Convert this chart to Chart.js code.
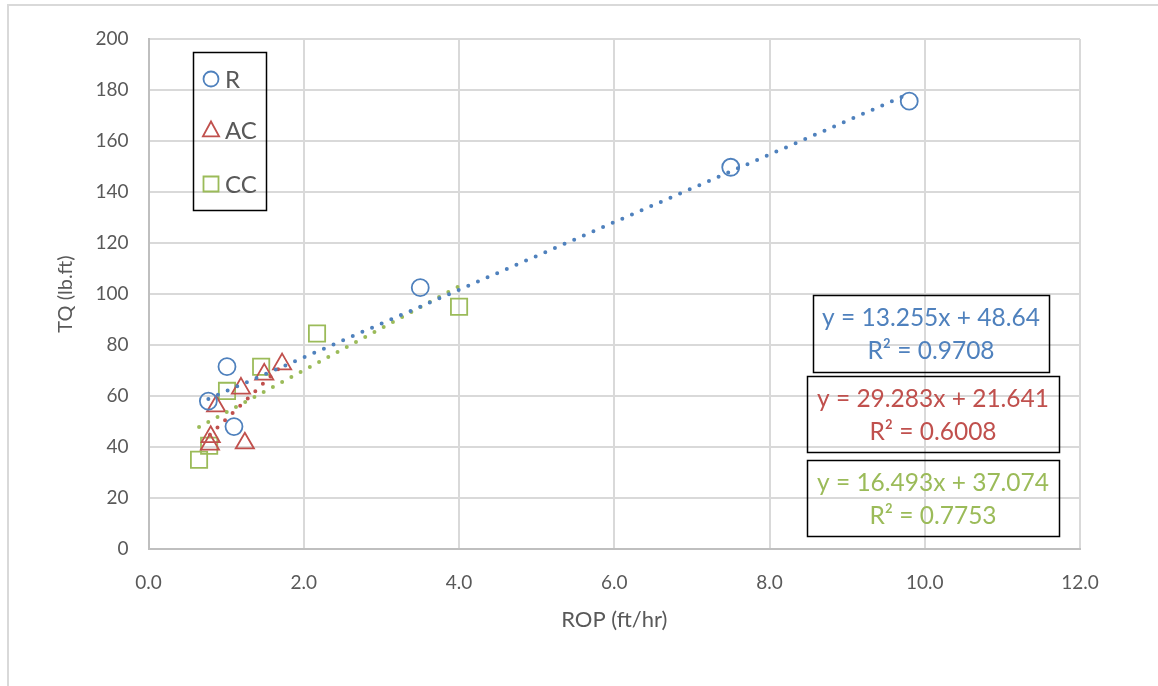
<!DOCTYPE html>
<html>
<head>
<meta charset="utf-8">
<script src="https://cdn.jsdelivr.net/npm/chart.js@4.4.0/dist/chart.umd.min.js"></script>
<style>
  html, body { margin: 0; padding: 0; background: #fff; }
</style>
</head>
<body>
<canvas id="myChart" width="1158" height="686"></canvas>
<script>
// data
var seriesNames = ['R', 'AC', 'CC'];
var rX  = [0.77, 1.01, 1.10, 3.50, 7.50, 9.80];
var rY  = [58, 71.5, 48, 102.5, 149.7, 175.6];
var acX = [0.80, 0.79, 0.87, 1.19, 1.24, 1.49, 1.72];
var acY = [44, 41, 56, 63, 41.5, 68.5, 72.5];
var ccX = [0.65, 0.78, 1.01, 1.45, 2.17, 4.00];
var ccY = [35, 40.5, 62, 71.5, 84.5, 95];
var slopes = [13.255, 29.283, 16.493];
var intercepts = [48.64, 21.641, 37.074];
var rSquared = ['0.9708', '0.6008', '0.7753'];

var colors = ['#4F81BD', '#C0504D', '#9BBB59'];
var styles = ['circle', 'triangle', 'rect'];
var radii = [8.5, 10.5, 11.5];
var FONT = 'Lato, "Open Sans", sans-serif';

function pts(xs, ys) {
    return xs.map(function (x, i) { return { x: x, y: ys[i] }; });
}
function trend(xs, k) {
    var lo = Math.min.apply(null, xs), hi = Math.max.apply(null, xs);
    return [
        { x: lo, y: slopes[k] * lo + intercepts[k] },
        { x: hi, y: slopes[k] * hi + intercepts[k] }
    ];
}

var xsList = [rX, acX, ccX];
var ysList = [rY, acY, ccY];
var datasets = [];
for (var k = 0; k < 3; k++) {
    datasets.push({
        label: seriesNames[k],
        data: pts(xsList[k], ysList[k]),
        showLine: false,
        pointStyle: styles[k],
        pointRadius: radii[k],
        pointHoverRadius: radii[k],
        pointBorderWidth: 1.8,
        borderColor: colors[k],
        backgroundColor: 'rgba(0,0,0,0)',
        order: 1
    });
}
for (var k = 0; k < 3; k++) {
    datasets.push({
        label: seriesNames[k] + ' trend',
        data: trend(xsList[k], k),
        showLine: true,
        pointRadius: 0,
        borderColor: colors[k],
        borderWidth: 4,
        borderDash: [0, 10.5],
        borderCapStyle: 'round',
        order: 0
    });
}

function marker(c, style, x, y, r, color) {
    c.save();
    c.strokeStyle = color;
    c.lineWidth = 1.8;
    c.beginPath();
    if (style === 'circle') {
        c.arc(x, y, r, 0, Math.PI * 2);
    } else if (style === 'triangle') {
        c.moveTo(x, y - r);
        c.lineTo(x + r * 0.95, y + r * 0.75);
        c.lineTo(x - r * 0.95, y + r * 0.75);
        c.closePath();
    } else {
        c.rect(x - r, y - r, 2 * r, 2 * r);
    }
    c.stroke();
    c.restore();
}

var boxes = {
    id: 'boxes',
    beforeDraw: function (chart) {
        var c = chart.ctx;
        c.save();
        c.strokeStyle = '#D9D9D9';
        c.lineWidth = 2;
        c.strokeRect(8, 5, 1170, 700);
        c.restore();
    },
    afterDraw: function (chart) {
        var c = chart.ctx;
        c.save();
        // legend
        c.strokeStyle = '#000';
        c.lineWidth = 1.5;
        c.strokeRect(193.5, 52.5, 73, 158);
        var ly = [79, 130, 184];
        var lr = [7.5, 8.5, 7.5];
        c.font = '24px ' + FONT;
        c.fillStyle = '#595959';
        c.textBaseline = 'middle';
        c.textAlign = 'left';
        for (var i = 0; i < 3; i++) {
            marker(c, styles[i], 211, ly[i], lr[i], colors[i]);
            c.fillText(seriesNames[i], 225, ly[i] + 1);
        }
        // equation boxes
        var bx = [[813, 295, 236, 77], [807, 376, 252, 76], [807, 460, 252, 76]];
        c.textAlign = 'center';
        c.font = '24.5px ' + FONT;
        for (var i = 0; i < 3; i++) {
            var b = bx[i];
            c.strokeStyle = '#000';
            c.lineWidth = 1.5;
            c.strokeRect(b[0] + 0.5, b[1] + 0.5, b[2], b[3]);
            c.fillStyle = colors[i];
            var cx = b[0] + b[2] / 2;
            c.fillText('y = ' + slopes[i] + 'x + ' + intercepts[i], cx, b[1] + 23);
            c.fillText('R\u00B2 = ' + rSquared[i], cx, b[1] + 56);
        }
        c.restore();
    }
};

var ctx = document.getElementById('myChart').getContext('2d');
var myChart = new Chart(ctx, {
    type: 'scatter',
    data: { datasets: datasets },
    options: {
        responsive: false,
        animation: false,
        layout: { padding: { left: 40, top: 39, right: 78, bottom: 37 } },
        plugins: { legend: { display: false }, tooltip: { enabled: false } },
        scales: {
            x: {
                type: 'linear',
                min: 0, max: 12,
                ticks: {
                    stepSize: 2,
                    padding: 22,
                    color: '#595959',
                    font: { family: FONT, size: 19 },
                    callback: function (v) { return v.toFixed(1); }
                },
                grid: { color: '#D9D9D9', lineWidth: 2, drawTicks: false },
                border: { color: '#BFBFBF', width: 2 },
                title: {
                    display: true, text: 'ROP (ft/hr)', color: '#595959',
                    font: { family: FONT, size: 22 }, padding: { top: 0, bottom: 16 }
                },
                afterFit: function (s) { s.height = 100; }
            },
            y: {
                min: 0, max: 200,
                ticks: {
                    stepSize: 20,
                    padding: 20,
                    color: '#595959',
                    font: { family: FONT, size: 19 }
                },
                grid: { color: '#D9D9D9', lineWidth: 2, drawTicks: false },
                border: { color: '#BFBFBF', width: 2 },
                title: {
                    display: true, text: 'TQ (lb.ft)', color: '#595959',
                    font: { family: FONT, size: 20 }, padding: { top: 14, bottom: 0 }
                },
                afterFit: function (s) { s.width = 108.6; }
            }
        }
    },
    plugins: [boxes]
});
</script>
</body>
</html>
